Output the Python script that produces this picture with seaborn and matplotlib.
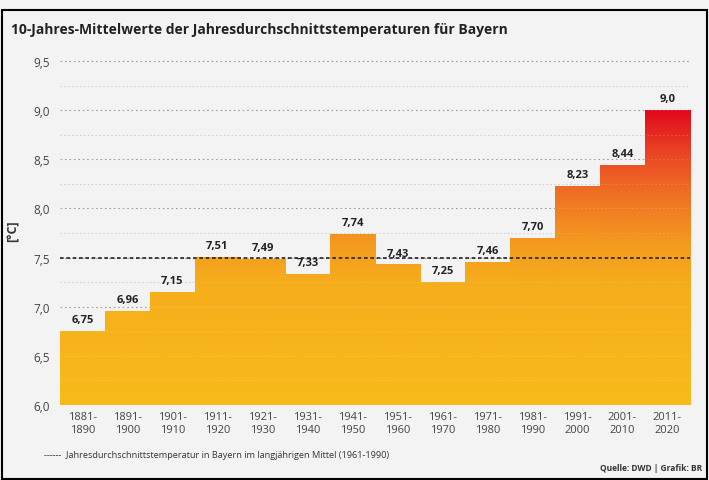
import numpy as np
import pandas as pd
import matplotlib
matplotlib.use("Agg")
import matplotlib.pyplot as plt
from matplotlib.colors import LinearSegmentedColormap
from matplotlib.ticker import MultipleLocator, FuncFormatter
from matplotlib.patches import Rectangle
import seaborn as sns

# Data
decades = ["1881-\n1890", "1891-\n1900", "1901-\n1910", "1911-\n1920", "1921-\n1930",
           "1931-\n1940", "1941-\n1950", "1951-\n1960", "1961-\n1970", "1971-\n1980",
           "1981-\n1990", "1991-\n2000", "2001-\n2010", "2011-\n2020"]
temps = [6.75, 6.96, 7.15, 7.51, 7.49, 7.33, 7.74, 7.43, 7.25, 7.46, 7.70, 8.23, 8.44, 9.0]
value_labels = ["6,75", "6,96", "7,15", "7,51", "7,49", "7,33", "7,74", "7,43", "7,25",
                "7,46", "7,70", "8,23", "8,44", "9,0"]
reference_mean = 7.5

df = pd.DataFrame({"decade": decades, "temp": temps})

sns.set_theme(style="white")
plt.rcParams["font.family"] = ["Open Sans", "DejaVu Sans"]

bg = "#F3F3F3"
fig = plt.figure(figsize=(7.09, 4.81), dpi=100, facecolor=bg)
ax = fig.add_axes([0.0846, 0.156, 0.8886, 0.725])
ax.set_facecolor(bg)

# dotted grid lines
ax.yaxis.set_major_locator(MultipleLocator(0.5))
ax.yaxis.set_minor_locator(MultipleLocator(0.25))
ax.grid(axis="y", which="major", linestyle=(0, (1.5, 2.5)), color="#9a9a9a", linewidth=0.8)
ax.grid(axis="y", which="minor", linestyle=(0, (1.5, 2.5)), color="#c4c4c4", linewidth=0.7)
ax.set_axisbelow(True)

sns.barplot(data=df, x="decade", y="temp", width=1.0, color="#F7B21B",
            linewidth=0, ax=ax)

# gradient fill clipped to each bar
cmap = LinearSegmentedColormap.from_list(
    "heat", [(0.0, "#F8BB1A"), (0.40, "#F6AE1C"), (0.55, "#F49A1F"),
             (0.72, "#EF6F25"), (0.86, "#EA4424"), (1.0, "#E1081C")])
grad = np.linspace(0, 1, 256).reshape(-1, 1)
for patch in list(ax.patches):
    patch.set_facecolor("none")
    im = ax.imshow(grad, extent=[-0.5, 13.5, 6.0, 9.0], origin="lower", aspect="auto",
                   cmap=cmap, zorder=1.5, interpolation="bicubic")
    im.set_clip_path(patch)
ax.set_ylim(6.0, 9.55)
ax.set_xlim(-0.5, 13.5)
ax.set_aspect("auto")

# faint grid showing through the bars
for yv in np.arange(6.25, 9.5, 0.25):
    ax.axhline(yv, color="white", alpha=0.18, linestyle=(0, (1.5, 2.5)), linewidth=0.7, zorder=1.6)

# long-term mean
ax.axhline(reference_mean, color="#222222", linestyle=(0, (2.2, 1.6)), linewidth=1.2, zorder=3)

# value labels
for i, (v, lab) in enumerate(zip(temps, value_labels)):
    ax.text(i, v + 0.06, lab, ha="center", va="bottom", fontsize=8, fontweight="bold",
            color="#222222", zorder=4)

ax.yaxis.set_major_formatter(FuncFormatter(lambda v, p: f"{v:.1f}".replace(".", ",")))
ax.tick_params(axis="y", which="both", length=0, labelsize=8.5, colors="#444444", pad=7)
ax.tick_params(axis="x", length=0, labelsize=8, colors="#444444", pad=4)
for t in ax.get_xticklabels():
    t.set_linespacing(1.3)
ax.set_xlabel("")
ax.set_ylabel("[°C]", fontsize=9, fontweight="bold", color="#333333", labelpad=10)
for s in ax.spines.values():
    s.set_visible(False)

fig.text(0.016, 0.938, "10-Jahres-Mittelwerte der Jahresdurchschnittstemperaturen für Bayern",
         fontsize=10, fontweight="bold", color="#222222", va="center")
fig.text(0.062, 0.053, "------  Jahresdurchschnittstemperatur in Bayern im langjährigen Mittel (1961-1990)",
         fontsize=6.6, color="#333333", va="center")
fig.text(0.99, 0.027, "Quelle: DWD | Grafik: BR", fontsize=6, fontweight="bold",
         color="#333333", ha="right", va="center")

# frame around the graphic
fig.patches.append(Rectangle((0.003, 0.003), 0.994, 0.975, transform=fig.transFigure,
                             fill=False, edgecolor="black", linewidth=1.5))

fig.savefig("out.png", dpi=100, facecolor=bg)
